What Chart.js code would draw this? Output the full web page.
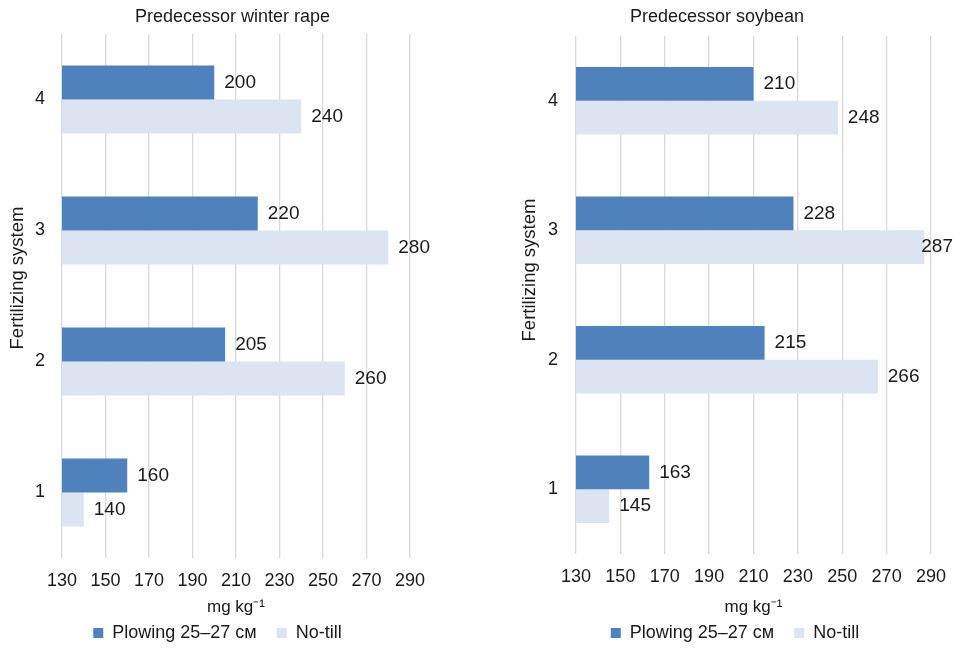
<!DOCTYPE html>
<html>
<head>
<meta charset="utf-8">
<script src="https://cdn.jsdelivr.net/npm/chart.js@4.4.1/dist/chart.umd.min.js"></script>
<style>
  html, body { margin: 0; padding: 0; background: #ffffff; }
  #wrap { display: flex; width: 954px; height: 654px; }
  canvas { display: block; }
</style>
</head>
<body>
<div id="wrap">
  <canvas id="c1" width="477" height="654"></canvas>
  <canvas id="c2" width="477" height="654"></canvas>
</div>
<script>
// ---- data ----
const categories = ['1', '2', '3', '4'];
const seriesNames = ['Plowing 25–27 см', 'No-till'];
const rapePlowing = [160, 205, 220, 200];
const rapeNoTill = [140, 260, 280, 240];
const soyPlowing = [163, 215, 228, 210];
const soyNoTill = [145, 266, 287, 248];
const xTickValues = [130, 150, 170, 190, 210, 230, 250, 270, 290];
const chartTitles = ['Predecessor winter rape', 'Predecessor soybean'];
const yAxisTitle = 'Fertilizing system';
const xAxisTitle = 'mg kg⁻¹';

// ---- style ----
const FONT = "'Liberation Sans', Arial, sans-serif";
const TEXT = '#1a1a1a';
const BLUE = '#4f81bd';
const LIGHT = '#dce4f2';
const GRID = '#d9d9d9';
Chart.defaults.font.family = FONT;
Chart.defaults.color = TEXT;

const LEGEND_FONT = 18, LEGEND_PAD = 20;
const X_TITLE_FONT = 17;
const Y_TITLE_FONT = 18.5;

const valueLabels = {
  id: 'valueLabels',
  afterDatasetsDraw(chart) {
    const ctx = chart.ctx;
    ctx.save();
    ctx.font = '19px ' + FONT;
    ctx.fillStyle = TEXT;
    ctx.textBaseline = 'middle';
    ctx.textAlign = 'left';
    chart.data.datasets.forEach((ds, di) => {
      chart.getDatasetMeta(di).data.forEach((bar, i) => {
        const txt = String(ds.data[i]);
        const w = ctx.measureText(txt).width;
        const x = Math.min(bar.x + 10, chart.width - w - 1);
        ctx.fillText(txt, x, bar.y);
      });
    });
    ctx.restore();
  }
};

function makeChart(id, title, plowing, noTill, L) {
  const legendH = LEGEND_FONT + LEGEND_PAD + 10;
  const xBottom = 654 - legendH;
  const xTitlePadBottom = xBottom - L.xTitleY - X_TITLE_FONT * 1.2 / 2;
  const placer = {
    id: 'placer',
    afterLayout(chart) {
      const tb = chart.titleBlock;
      if (tb) {
        const dx = L.titleCenter - (tb.left + tb.right) / 2;
        tb.left += dx; tb.right += dx;
      }
      const lg = chart.legend;
      if (lg && lg.lineWidths) {
        const pad = LEGEND_PAD;
        const lw = lg.lineWidths[0];
        const start = (lg.left + pad + lg.right - lw) / 2;
        const center = start + (lw - pad) / 2;
        const dx = L.legendCenter - center;
        lg.left += dx; lg.right += dx;
        const dy = L.legendY - (lg.top + pad + LEGEND_FONT / 2);
        lg.top += dy; lg.bottom += dy;
      }
      const ys = chart.scales.y;
      if (ys && !ys._titleShifted) {
        const orig = ys.drawTitle;
        ys.drawTitle = function () {
          this.ctx.save();
          this.ctx.translate(0, -L.yTitleShift);
          orig.apply(this, arguments);
          this.ctx.restore();
        };
        ys._titleShifted = true;
      }
    }
  };
  return new Chart(document.getElementById(id), {
    type: 'bar',
    data: {
      labels: categories,
      datasets: [
        { label: seriesNames[0], data: plowing, backgroundColor: BLUE, borderWidth: 0 },
        { label: seriesNames[1], data: noTill, backgroundColor: LIGHT, borderWidth: 0 }
      ]
    },
    options: {
      indexAxis: 'y',
      responsive: false,
      animation: false,
      layout: { padding: 0 },
      datasets: { bar: { categoryPercentage: 0.52, barPercentage: 1 } },
      scales: {
        x: {
          min: 130, max: 290,
          afterBuildTicks(scale) { scale.ticks = xTickValues.map(v => ({ value: v })); },
          afterFit(scale) {
            scale.height = xBottom - L.bottom;
            scale.paddingRight = 477 - L.right;
          },
          grid: { color: GRID, lineWidth: 1.3, drawTicks: false },
          border: { display: false },
          ticks: { font: { size: 18 }, color: TEXT, padding: 12, maxRotation: 0, autoSkip: false },
          title: { display: true, text: xAxisTitle, font: { size: X_TITLE_FONT }, color: TEXT,
                   padding: { top: 0, bottom: xTitlePadBottom } }
        },
        y: {
          reverse: true,
          afterFit(scale) { scale.width = L.left; },
          grid: { display: false, drawTicks: false },
          border: { display: false },
          ticks: { font: { size: 18 }, color: TEXT, padding: L.left - L.yTickRight },
          title: { display: true, text: yAxisTitle, font: { size: Y_TITLE_FONT }, color: TEXT,
                   padding: { top: L.yTitleX - Y_TITLE_FONT * 1.2 / 2, bottom: 0 } }
        }
      },
      plugins: {
        title: { display: true, text: title, font: { size: 18, weight: 'normal' }, color: TEXT,
                 padding: { top: L.titleY - 10.8, bottom: L.top - (L.titleY - 10.8) - 21.6 } },
        legend: { position: 'bottom',
                  labels: { font: { size: LEGEND_FONT }, color: TEXT, boxWidth: 10, boxHeight: 10, padding: LEGEND_PAD } },
        tooltip: { enabled: false }
      }
    },
    plugins: [valueLabels, placer]
  });
}

makeChart('c1', chartTitles[0], rapePlowing, rapeNoTill, {
  left: 62, right: 410, top: 34, bottom: 558, titleY: 17, titleCenter: 232.5,
  yTitleX: 18, yTitleShift: 18, yTickRight: 45, legendCenter: 217.5, legendY: 633, xTitleY: 607
});
makeChart('c2', chartTitles[1], soyPlowing, soyNoTill, {
  left: 99, right: 454, top: 36, bottom: 554, titleY: 17, titleCenter: 240,
  yTitleX: 53, yTitleShift: 25, yTickRight: 81, legendCenter: 258, legendY: 633, xTitleY: 607
});
</script>
</body>
</html>
